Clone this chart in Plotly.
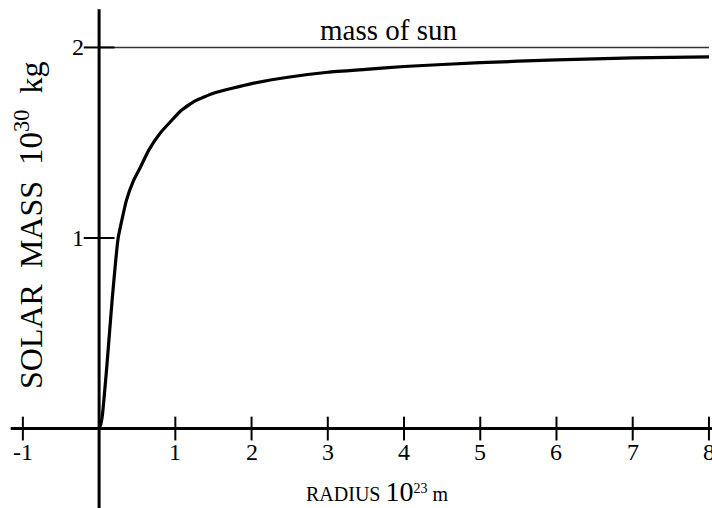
import plotly.graph_objects as go

# data
radius = [0, 0.02, 0.04, 0.1, 0.17, 0.25, 0.36, 0.45, 0.54, 0.65, 0.8, 1.08, 1.26, 1.5,
          2.0, 2.5, 3.0, 3.5, 4.0, 5.0, 6.0, 7.0, 8.0]
mass = [0, 0.02, 0.06, 0.32, 0.67, 1.00, 1.20, 1.30, 1.37, 1.46, 1.55, 1.67, 1.72, 1.76,
        1.81, 1.845, 1.87, 1.885, 1.90, 1.92, 1.935, 1.945, 1.95]
sun_mass = 2
x_ticks = [-1, 1, 2, 3, 4, 5, 6, 7, 8]
y_ticks = [1, 2]

SERIF = "Liberation Serif, Times New Roman, serif"
X0, X1 = -1.30, 8.04
Y0, Y1 = -0.417, 2.249

fig = go.Figure()

# curve
fig.add_trace(go.Scatter(x=radius, y=mass, mode="lines",
                         line=dict(color="black", width=3.2, shape="spline", smoothing=0.4),
                         hoverinfo="skip"))
# sun mass line
fig.add_trace(go.Scatter(x=[0, x_ticks[-1]], y=[sun_mass, sun_mass], mode="lines",
                         line=dict(color="#333333", width=1.5), hoverinfo="skip"))
# tick marks
fig.add_trace(go.Scatter(x=x_ticks, y=[0] * len(x_ticks), mode="markers",
                         marker=dict(symbol="line-ns", size=17,
                                     line=dict(color="black", width=2)),
                         hoverinfo="skip"))
fig.add_trace(go.Scatter(x=[0] * len(y_ticks), y=y_ticks, mode="markers",
                         marker=dict(symbol="line-ew", size=22,
                                     line=dict(color="black", width=2)),
                         hoverinfo="skip"))

# axes lines
fig.add_shape(type="line", x0=-1.16, x1=X1, y0=0, y1=0, line=dict(color="black", width=3))
fig.add_shape(type="line", x0=0, x1=0, y0=Y0, y1=2.20, line=dict(color="black", width=3))

anns = []
for t in x_ticks:
    anns.append(dict(x=t, y=0, xref="x", yref="y", text=str(t), showarrow=False,
                     yanchor="top", xanchor="center", yshift=-8,
                     font=dict(family=SERIF, size=24, color="black")))
for t in y_ticks:
    anns.append(dict(x=0, y=t, xref="x", yref="y", text=str(t), showarrow=False,
                     yanchor="middle", xanchor="right", xshift=-13,
                     font=dict(family=SERIF, size=24, color="black")))
anns.append(dict(x=3.80, y=sun_mass, xref="x", yref="y", text="mass of sun",
                 showarrow=False, yanchor="bottom", xanchor="center", yshift=-1,
                 font=dict(family=SERIF, size=29, color="black")))
anns.append(dict(x=377 / 712, y=(508 - 491) / 508, xref="paper", yref="paper",
                 text='RADIUS <span style="font-size:28px">10</span><sup>23</sup> m',
                 showarrow=False, xanchor="center", yanchor="middle",
                 font=dict(family=SERIF, size=20, color="black")))
anns.append(dict(x=29 / 712, y=(508 - 226) / 508, xref="paper", yref="paper",
                 text='SOLAR  MASS  <span style="font-size:33px">10</span><sup>30</sup>  kg',
                 textangle=-90, showarrow=False, xanchor="center", yanchor="middle",
                 font=dict(family=SERIF, size=32, color="black")))

fig.update_layout(
    width=712, height=508,
    margin=dict(l=0, r=0, t=0, b=0),
    paper_bgcolor="white", plot_bgcolor="white",
    showlegend=False,
    xaxis=dict(range=[X0, X1], visible=False, fixedrange=True),
    yaxis=dict(range=[Y0, Y1], visible=False, fixedrange=True),
    annotations=anns,
)

fig.write_html("out.html")
